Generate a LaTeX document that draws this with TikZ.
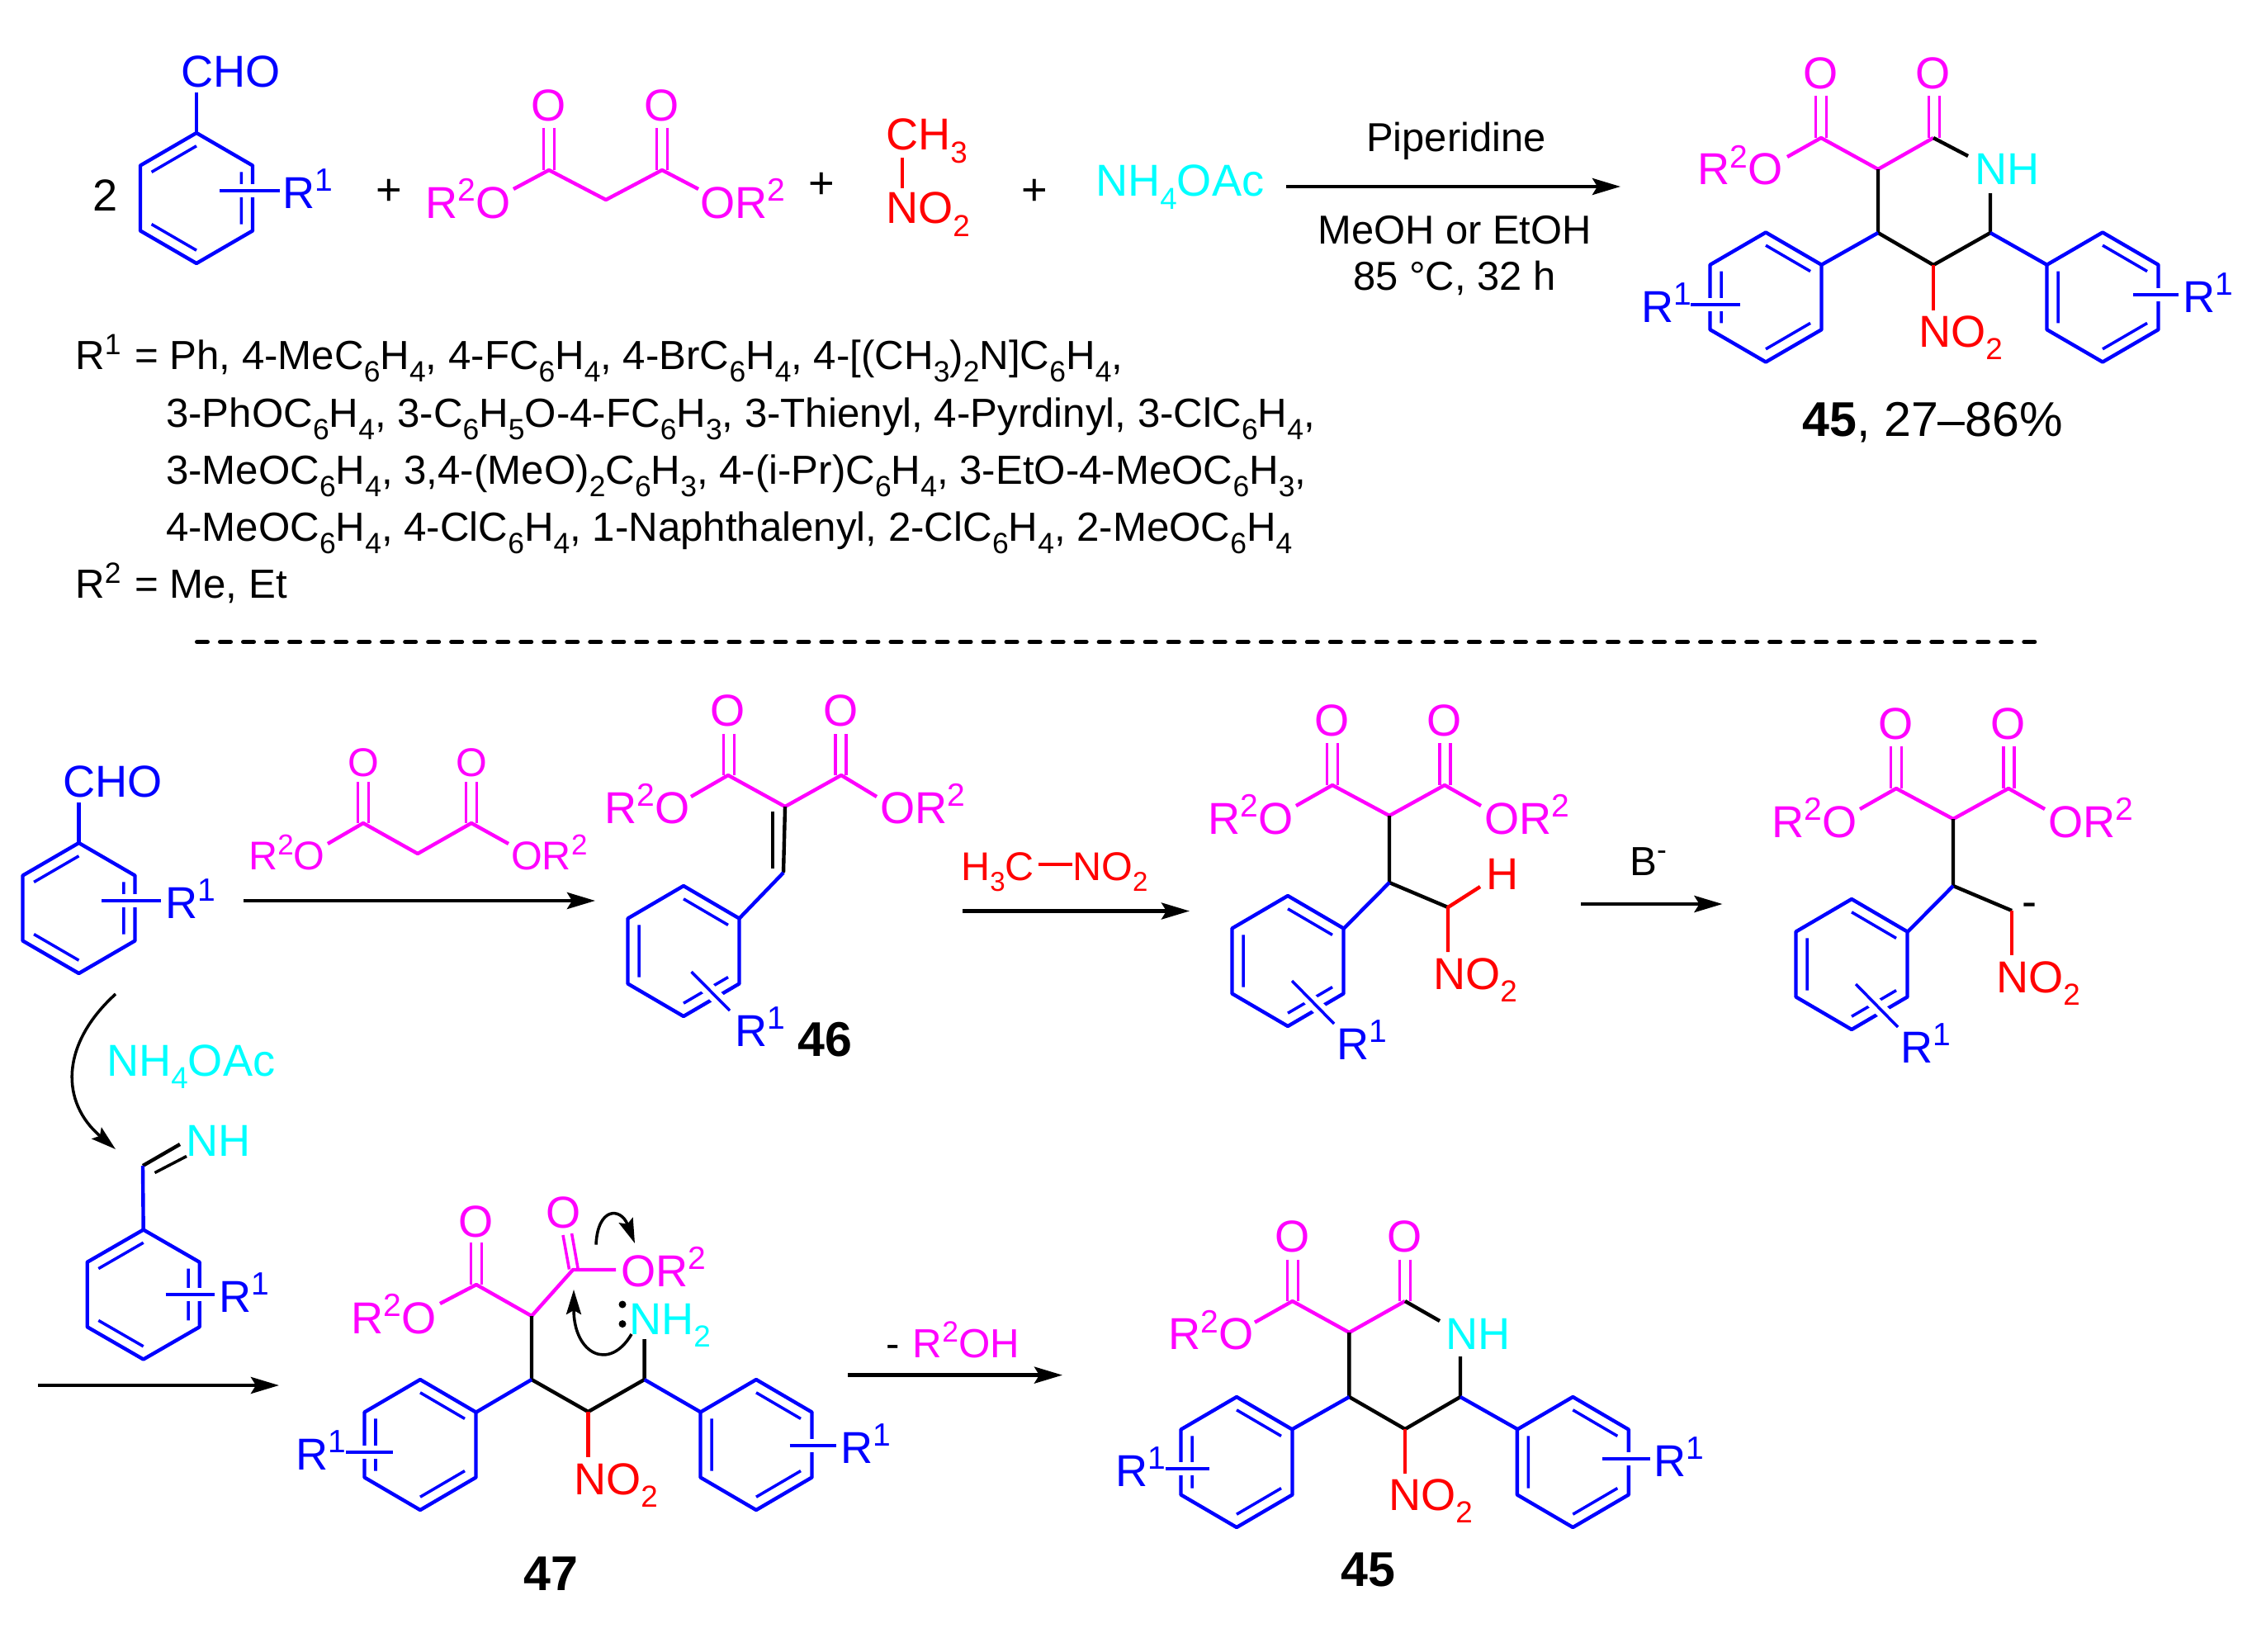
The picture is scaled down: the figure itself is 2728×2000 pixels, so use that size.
\documentclass[tikz,border=0pt]{standalone}
\usepackage{fontspec}
\usepackage{graphicx}
\setmainfont{Liberation Sans}
\usetikzlibrary{arrows.meta}
\definecolor{cmag}{RGB}{255,0,255}
\definecolor{ccy}{RGB}{0,255,255}
\definecolor{cbl}{RGB}{0,0,255}
\definecolor{crd}{RGB}{255,0,0}
\newcommand\dn[1]{\raisebox{-0.28em}{\scalebox{0.68}{#1}}}
\newcommand\up[1]{\raisebox{0.37em}{\scalebox{0.72}{#1}}}
\newcommand\ds[1]{\raisebox{-0.3em}{\scalebox{0.72}{#1}}}
\tikzset{
 x=0.01cm,y=-0.01cm,
 bb/.style={draw=cbl,line width=1.25pt,line join=round},
 mb/.style={draw=cmag,line width=1.25pt,line join=round},
 kb/.style={draw=black,line width=1.25pt,line join=round},
 rb/.style={draw=crd,line width=1.25pt,line join=round},
 db/.style={line width=1pt},
 txt/.style={anchor=base west,inner sep=0pt,xshift=-0.035cm,font=\fontsize{15.4pt}{18pt}\selectfont},
 sml/.style={anchor=base west,inner sep=0pt,xshift=-0.035cm,font=\fontsize{14pt}{18pt}\selectfont},
 rgt/.style={anchor=base west,inner sep=0pt,xshift=-0.035cm,font=\fontsize{13.8pt}{16pt}\selectfont},
 lst/.style={anchor=base west,inner sep=0pt,xshift=-0.035cm,yshift=-0.015cm,font=\fontsize{14pt}{18pt}\selectfont},
 ctr/.style={anchor=base,inner sep=0pt,yshift=-0.015cm,font=\fontsize{13.9pt}{18pt}\selectfont},
 cen/.style={anchor=center,inner sep=0pt,font=\fontsize{15.4pt}{18pt}\selectfont},
 cns/.style={anchor=center,inner sep=0pt,font=\fontsize{13.8pt}{16pt}\selectfont},
 num/.style={anchor=base west,inner sep=0pt,font=\fontsize{16.8pt}{18pt}\selectfont},
 arr/.style={draw=black,line width=1.25pt,-{Stealth[length=0.34cm,width=0.2cm,inset=0.06cm]}},
 crv/.style={draw=black,line width=1pt,-{Stealth[length=0.3cm,width=0.18cm,inset=0.05cm]}},
}
% ring, doubles on top-left, right, lower-left
\newcommand\hexA[4]{\begin{scope}[shift={(#1,#2)}]
 \draw[bb] (0,-#4)--(#3,-#4/2)--(#3,#4/2)--(0,#4)--(-#3,#4/2)--(-#3,-#4/2)--cycle;
 \draw[bb,db] (0,-.8*#4)--(-.8*#3,-.4*#4) (.8*#3,-.4*#4)--(.8*#3,.4*#4) (0,.8*#4)--(-.8*#3,.4*#4);
\end{scope}}
% ring, doubles on top-right, left, lower-right
\newcommand\hexB[4]{\begin{scope}[shift={(#1,#2)}]
 \draw[bb] (0,-#4)--(#3,-#4/2)--(#3,#4/2)--(0,#4)--(-#3,#4/2)--(-#3,-#4/2)--cycle;
 \draw[bb,db] (0,-.8*#4)--(.8*#3,-.4*#4) (-.8*#3,-.4*#4)--(-.8*#3,.4*#4) (0,.8*#4)--(.8*#3,.4*#4);
\end{scope}}
% substituent bar crossing a ring: white halo, then the bar
\newcommand\rbar[5]{\draw[white,line width=0.16cm] (#1,#2)--(#3,#4);\draw[draw=cbl,line width=#5pt] (#1,#2)--(#3,#4);}
% two parallel C=O strokes
\newcommand\cdo[4]{\draw[mb,db] (#1-6.5,#3)--(#1-6.5,#4) (#1+6.5,#3)--(#1+6.5,#4);}
\begin{document}
\begin{tikzpicture}
\useasboundingbox (0,0) rectangle (2728,2000);
% ===== top reaction =====
\node[cen] (two) at (128,237) {2};
\hexA{238}{240}{68}{79}
\draw[bb] (238,112)--(238,161);
\rbar{266}{231}{339}{231}{1.4}
\node[txt,text=cbl] (cho1) at (222,106) {CHO};
\node[txt,text=cbl] (r1a) at (345,252) {R\up{1}};
\node[cen] (pl1) at (471,233) {+};
% malonate
\node[cen,text=cmag] (oa) at (665,128) {O};
\node[cen,text=cmag] (ob) at (802,128) {O};
\node[txt,text=cmag] (roa) at (518,264) {R\up{2}O};
\node[txt,text=cmag] (orb) at (851,264) {OR\up{2}};
\draw[mb] (622,229)--(665,206)--(734,242)--(802,206)--(846,229);
\cdo{665}{0}{155}{206}
\cdo{802}{0}{155}{206}
\node[cen] (pl2) at (995,225) {+};
\node[txt,text=crd] (ch3) at (1076,182) {CH\dn{3}};
\node[txt,text=crd] (no2a) at (1076,271) {NO\dn{2}};
\draw[rb] (1093,191)--(1093,228);
\node[cen] (pl3) at (1253,233) {+};
\node[txt,text=ccy] (nh4a) at (1330,238) {NH\dn{4}OAc};
\coordinate (a1s) at (1558,226); \coordinate (a1e) at (1963,226);
\draw[arr] (a1s)--(a1e);
\node[ctr] (pip) at (1764,182) {Piperidine};
\node[ctr] (meoh) at (1762,294) {MeOH or EtOH};
\node[ctr] (temp) at (1762,350) {85 °C, 32 h};
% product 45 (top)
\node[cen,text=cmag] (o1) at (2206,89) {O};
\node[cen,text=cmag] (o2) at (2342,89) {O};
\node[txt,text=cmag] (ro1) at (2059,224) {R\up{2}O};
\node[txt,text=ccy] (nh1) at (2395,224) {NH};
\node[txt,text=crd] (no2b) at (2327,420) {NO\dn{2}};
\draw[mb] (2165,190)--(2206,167)--(2275,205)--(2342,167);
\cdo{2206}{0}{116}{167}
\cdo{2343}{0}{116}{167}
\draw[kb] (2342,167)--(2384,189);
\draw[kb] (2411,234)--(2411,282)--(2342,321)--(2275,282)--(2275,205);
\draw[rb] (2342,321)--(2342,376);
\draw[bb] (2275,282)--(2206,321);
\draw[bb] (2411,282)--(2480,321);
\hexB{2139}{360}{67.5}{78.5}
\hexB{2547}{360}{67.5}{78.5}
\rbar{2048}{369}{2108}{369}{1.0}
\rbar{2584}{357}{2639}{357}{1.4}
\node[txt,text=cbl] (r1b) at (1991,390) {R\up{1}};
\node[txt,text=cbl] (r1c) at (2647,378) {R\up{1}};
\node[num] (l45a) at (2183,528) {\textbf{45}, 27–86\%};
% substituent list
\node[lst] (l1) at (94,446) {R\up{1}};
\node[lst] (l1b) at (166,446) {= Ph, 4-MeC\ds{6}H\ds{4}, 4-FC\ds{6}H\ds{4}, 4-BrC\ds{6}H\ds{4}, 4-[(CH\ds{3})\ds{2}N]C\ds{6}H\ds{4},};
\node[lst] (l2) at (204,516) {3-PhOC\ds{6}H\ds{4}, 3-C\ds{6}H\ds{5}O-4-FC\ds{6}H\ds{3}, 3-Thienyl, 4-Pyrdinyl, 3-ClC\ds{6}H\ds{4},};
\node[lst] (l3) at (204,585) {3-MeOC\ds{6}H\ds{4}, 3,4-(MeO)\ds{2}C\ds{6}H\ds{3}, 4-(i-Pr)C\ds{6}H\ds{4}, 3-EtO-4-MeOC\ds{6}H\ds{3},};
\node[lst] (l4) at (204,654) {4-MeOC\ds{6}H\ds{4}, 4-ClC\ds{6}H\ds{4}, 1-Naphthalenyl, 2-ClC\ds{6}H\ds{4}, 2-MeOC\ds{6}H\ds{4}};
\node[lst] (l5) at (94,723) {R\up{2}};
\node[lst] (l5b) at (166,723) {= Me, Et};
% dashed divider
\coordinate (ds) at (238.5,777.5); \coordinate (de) at (2471.5,777.5);
\draw[line width=0.05cm,line cap=round,dash pattern=on 0.13cm off 0.15cm] (ds)--(de);
% ===== lower: benzaldehyde =====
\hexA{95.5}{1100}{68}{79}
\draw[bb] (95.5,972)--(95.5,1021);
\rbar{123}{1091}{195}{1091}{1.4}
\node[txt,text=cbl] (cho2) at (79,965) {CHO};
\node[txt,text=cbl] (r1d) at (203,1112) {R\up{1}};
% malonate reagent
\node[cns,text=cmag] (oc) at (440,924) {O};
\node[cns,text=cmag] (od) at (571,924) {O};
\node[rgt,text=cmag] (roc) at (304,1053) {R\up{2}O};
\node[rgt,text=cmag] (ord) at (622,1053) {OR\up{2}};
\draw[mb] (397,1022)--(440,997)--(506,1034)--(571,997)--(616,1022);
\cdo{440}{0}{947}{997}
\cdo{571}{0}{947}{997}
\coordinate (a2s) at (295,1091); \coordinate (a2e) at (721,1091);
\draw[arr] (a2s)--(a2e);
% compound 46
\node[cen,text=cmag] (oe) at (882,861) {O};
\node[cen,text=cmag] (of) at (1019,861) {O};
\node[txt,text=cmag] (roe) at (735,997) {R\up{2}O};
\node[txt,text=cmag] (orf) at (1069,997) {OR\up{2}};
\draw[mb] (837,965)--(882,939)--(951,977)--(1019,939)--(1062,965);
\cdo{883}{0}{889}{939}
\cdo{1018.5}{0}{889}{939}
\draw[kb] (951,977)--(949,1057);
\draw[kb,db] (936,983)--(936,1052);
\draw[bb] (949,1057)--(895,1113);
\hexB{828}{1152}{67.5}{79}
\rbar{837.5}{1177}{884}{1224}{1.0}
\node[txt,text=cbl] (r1e) at (893,1267) {R\up{1}};
\node[num] (l46) at (966,1279) {\textbf{46}};
% arrow 3
\node[rgt,text=crd] (h3c) at (1167,1066) {H\dn{3}C};
\node[rgt,text=crd] (no2c) at (1302,1066) {NO\dn{2}};
\draw[rb,line width=1.4pt] ([xshift=0.05cm]h3c.east |- 0,1047)--(no2c.west |- 0,1047);
\coordinate (a3s) at (1166,1103.5); \coordinate (a3e) at (1441,1103.5);
\draw[arr] (a3s)--(a3e);
% intermediate with H
\node[cen,text=cmag] (og) at (1614,873) {O};
\node[cen,text=cmag] (oh) at (1750,873) {O};
\node[txt,text=cmag] (rog) at (1466,1010) {R\up{2}O};
\node[txt,text=cmag] (orh) at (1801,1010) {OR\up{2}};
\draw[mb] (1570,976)--(1614,951)--(1683,988)--(1750,951)--(1794,976);
\cdo{1614}{0}{900}{951}
\cdo{1750.5}{0}{900}{951}
\draw[kb] (1683,988)--(1683,1069)--(1754,1099);
\draw[rb] (1793,1074)--(1754,1099)--(1754,1153);
\draw[bb] (1683,1069)--(1627.5,1125);
\hexB{1560}{1164}{67.5}{79}
\rbar{1565}{1188}{1616}{1240}{1.0}
\node[txt,text=crd] (hh) at (1803,1077) {H};
\node[txt,text=crd] (no2d) at (1739,1198) {NO\dn{2}};
\node[txt,text=cbl] (r1f) at (1622,1283) {R\up{1}};
% arrow 4
\node[sml] (bm) at (1977,1060) {B\up{-}};
\coordinate (a4s) at (1915,1095); \coordinate (a4e) at (2086.5,1095);
\draw[arr] (a4s)--(a4e);
% carbanion
\node[cen,text=cmag] (oi) at (2297,877) {O};
\node[cen,text=cmag] (oj) at (2433,877) {O};
\node[txt,text=cmag] (roi) at (2149,1014) {R\up{2}O};
\node[txt,text=cmag] (orj) at (2484,1014) {OR\up{2}};
\draw[mb] (2253,980)--(2297,955)--(2366,992)--(2433,955)--(2477,980);
\cdo{2297}{0}{904}{955}
\cdo{2433.5}{0}{904}{955}
\draw[kb] (2366,992)--(2366,1073)--(2437,1103);
\draw[rb] (2437,1103)--(2437,1157);
\draw[bb] (2366,1073)--(2310.5,1129);
\hexB{2243}{1168}{67.5}{79}
\rbar{2248}{1192}{2299}{1244}{1.0}
\node[cen] (minus) at (2458,1102) {-};
\node[txt,text=crd] (no2e) at (2421,1202) {NO\dn{2}};
\node[txt,text=cbl] (r1g) at (2305,1287) {R\up{1}};
% curved arrow and imine
\coordinate (c1s) at (140,1204); \coordinate (c1e) at (140,1392);
\draw[crv] (c1s) .. controls (73,1265) and (73,1335) .. (c1e);
\node[txt,text=ccy] (nh4b) at (132,1303) {NH\dn{4}OAc};
\node[txt,text=ccy] (nh2) at (228,1400) {NH};
\draw[kb] (173,1412)--(218,1386);
\draw[kb,db] (187.5,1420.5)--(226,1400.5);
\draw[bb] (173,1412)--(173.7,1490);
\hexA{173.7}{1568}{68}{78.5}
\rbar{200.5}{1568}{260}{1568}{1.4}
\node[txt,text=cbl] (r1h) at (268,1589) {R\up{1}};
\coordinate (a5s) at (46,1678); \coordinate (a5e) at (338,1678);
\draw[arr] (a5s)--(a5e);
% compound 47
\node[cen,text=cmag] (ok) at (577,1479.5) {O};
\node[cen,text=cmag] (ol) at (683,1469) {O};
\node[txt,text=cmag] (rok) at (428.5,1615) {R\up{2}O};
\node[txt,text=cmag] (orl) at (755,1558) {OR\up{2}};
\draw[mb] (533,1579)--(577,1556)--(644,1594)--(694,1538)--(746,1538);
\cdo{577}{0}{1505}{1556}
\draw[mb,db] (682,1496)--(689.5,1537.5) (692.6,1494)--(700,1536);
\node[txt,text=ccy] (nh3) at (765,1616) {NH\dn{2}};
\fill (754,1580) circle[radius=4.5]; \fill (754,1603.6) circle[radius=4.5];
\draw[kb] (644,1594)--(644,1671)--(712.5,1710)--(780.6,1671)--(780.6,1622);
\draw[rb] (712.5,1710)--(712.5,1765);
\draw[bb] (644,1671)--(576,1711);
\draw[bb] (780.6,1671)--(848,1710);
\hexB{509}{1750}{67.5}{79}
\hexB{916}{1750}{67.5}{79}
\rbar{418.6}{1759}{476}{1759}{1.0}
\rbar{956.6}{1751}{1012.5}{1751}{1.4}
\node[txt,text=cbl] (r1i) at (361,1780) {R\up{1}};
\node[txt,text=cbl] (r1j) at (1021.6,1772) {R\up{1}};
\node[txt,text=crd] (no2f) at (698,1810) {NO\dn{2}};
\node[num] (l47) at (633.6,1926) {\textbf{47}};
\coordinate (c2s) at (722,1507.6); \coordinate (c2e) at (769,1506);
\draw[crv] (c2s) .. controls (724,1462) and (752,1462) .. (c2e);
\coordinate (c3s) at (765,1616); \coordinate (c3e) at (695,1562);
\draw[crv] (c3s) .. controls (738,1662) and (695,1640) .. (c3e);
% arrow 6
\node[sml] (mns) at (1076.5,1644) {-};
\node[sml,text=cmag] (roh) at (1108.7,1644) {R\up{2}OH};
\coordinate (a6s) at (1027,1665.6); \coordinate (a6e) at (1287,1665.6);
\draw[arr] (a6s)--(a6e);
% product 45 (bottom)
\node[cen,text=cmag] (om) at (1565.6,1498) {O};
\node[cen,text=cmag] (on) at (1702,1498) {O};
\node[txt,text=cmag] (rom) at (1418.6,1634.6) {R\up{2}O};
\node[txt,text=ccy] (nh5) at (1754,1634.6) {NH};
\draw[mb] (1520,1601.7)--(1565.6,1576)--(1634.4,1614)--(1702,1576);
\cdo{1566}{0}{1525.5}{1576}
\cdo{1702}{0}{1525.5}{1576}
\draw[kb] (1702,1576)--(1744,1600);
\draw[kb] (1769,1643)--(1769,1692)--(1702,1731)--(1634.4,1692)--(1634.4,1614);
\draw[rb] (1702,1731)--(1702,1785);
\draw[bb] (1634.4,1692)--(1565.6,1731);
\draw[bb] (1769,1692)--(1838,1731);
\hexB{1498}{1771}{67.5}{79}
\hexB{1905.3}{1771}{67.5}{79}
\rbar{1411.7}{1779}{1465}{1779}{1.4}
\rbar{1941}{1767}{1998.7}{1767}{1.4}
\node[txt,text=crd] (no2g) at (1685,1829) {NO\dn{2}};
\node[txt,text=cbl] (r1k) at (1354,1800) {R\up{1}};
\node[txt,text=cbl] (r1l) at (2006,1788) {R\up{1}};
\node[num] (l45b) at (1623.7,1921) {\textbf{45}};
\end{tikzpicture}
\end{document}
